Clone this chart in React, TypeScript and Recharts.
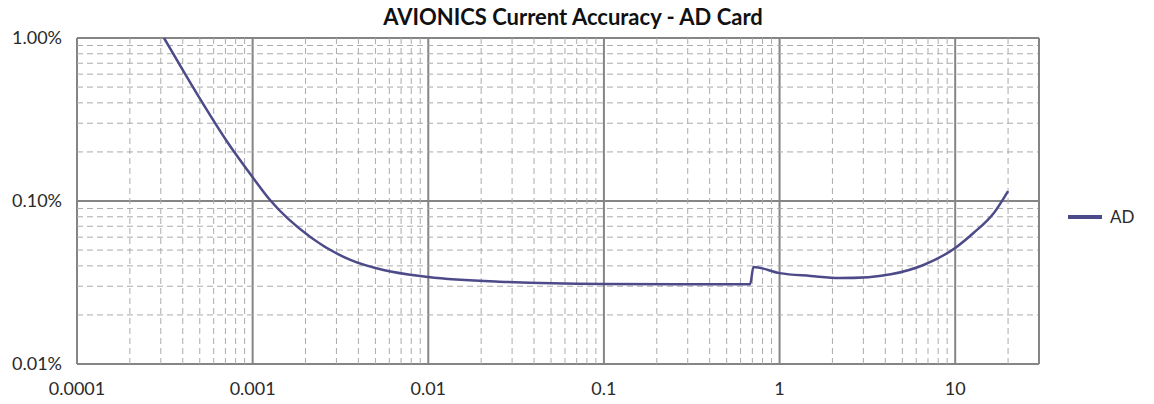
import React from 'react';
import { LineChart, Line, XAxis, YAxis, CartesianGrid, ReferenceLine, Legend } from 'recharts';

// AD card accuracy vs. measured current (A), both on log scales
const currentA = [
  0.000313, 0.000402, 0.0005, 0.000716, 0.001, 0.00126, 0.00213, 0.0036, 0.00555, 0.01,
  0.0282, 0.1, 0.3, 0.68, 0.71, 1, 1.5, 2.2, 3.2, 4.3, 6.6, 10, 12.7, 16.6, 20,
];
const accuracyAD = [
  0.01, 0.00631, 0.00426, 0.00231, 0.0014, 0.00101, 0.000601, 0.000435, 0.000377, 0.000342,
  0.000319, 0.00031, 0.000309, 0.000309, 0.000394, 0.000361, 0.000347, 0.000337, 0.000341, 0.000355,
  0.000405, 0.000515, 0.000636, 0.000844, 0.00115,
];

const xTicks = [0.0001, 0.001, 0.01, 0.1, 1, 10];
const yTicks = [0.0001, 0.001, 0.01];
const xMinor = [
  0.0002, 0.0003, 0.0004, 0.0005, 0.0006, 0.0007, 0.0008, 0.0009,
  0.002, 0.003, 0.004, 0.005, 0.006, 0.007, 0.008, 0.009,
  0.02, 0.03, 0.04, 0.05, 0.06, 0.07, 0.08, 0.09,
  0.2, 0.3, 0.4, 0.5, 0.6, 0.7, 0.8, 0.9,
  2, 3, 4, 5, 6, 7, 8, 9,
  20,
];
const yMinor = [
  0.0002, 0.0003, 0.0004, 0.0005, 0.0006, 0.0007, 0.0008, 0.0009,
  0.002, 0.003, 0.004, 0.005, 0.006, 0.007, 0.008, 0.009,
];

const data = currentA.map((x, i) => ({ current: x, AD: accuracyAD[i] }));

const FONT = 'Lato, "Open Sans", sans-serif';
const LINE_COLOR = '#4d4a8a';
const TEXT_COLOR = '#2a2a2a';

const LegendBox = () => (
  <div style={{ display: 'flex', alignItems: 'center', fontFamily: FONT, fontSize: 17, color: TEXT_COLOR }}>
    <svg width={34} height={8} style={{ marginRight: 8 }}>
      <line x1={0} y1={4} x2={34} y2={4} stroke={LINE_COLOR} strokeWidth={4} />
    </svg>
    AD
  </div>
);

export default function App() {
  return (
    <div style={{ position: 'relative', width: 1146, height: 396, background: '#fff' }}>
      <div
        style={{
          position: 'absolute', top: -1, left: 0, width: 1130, textAlign: 'center',
          fontFamily: FONT, fontWeight: 700, fontSize: 22, color: '#111', lineHeight: '20px',
        }}
      >
        AVIONICS Current Accuracy - AD Card
      </div>
      <LineChart
        width={1146}
        height={396}
        data={data}
        margin={{ top: 30, right: 115, left: 0, bottom: 0 }}
      >
        {xMinor.map((v) => (
          <ReferenceLine key={'x' + v} x={v} stroke="#ababab" strokeDasharray="6 4" strokeWidth={1} />
        ))}
        {yMinor.map((v) => (
          <ReferenceLine key={'y' + v} y={v} stroke="#ababab" strokeDasharray="6 4" strokeWidth={1} />
        ))}
        <CartesianGrid stroke="#858585" strokeWidth={2} />
        <ReferenceLine x={30} stroke="#858585" strokeWidth={2} />
        <XAxis
          dataKey="current"
          type="number"
          scale="log"
          domain={[0.0001, 30]}
          ticks={xTicks}
          allowDataOverflow
          axisLine={false}
          tickLine={false}
          height={40}
          tickMargin={12}
          tick={{ fontFamily: FONT, fontSize: 18, fill: TEXT_COLOR }}
          tickFormatter={(v: number) => String(v)}
        />
        <YAxis
          type="number"
          scale="log"
          domain={[0.0001, 0.01]}
          ticks={yTicks}
          allowDataOverflow
          axisLine={false}
          tickLine={false}
          width={69}
          tickMargin={9}
          tick={{ fontFamily: FONT, fontSize: 18, fill: TEXT_COLOR }}
          tickFormatter={(v: number) => (v * 100).toFixed(2) + '%'}
        />
        <Legend
          layout="vertical"
          align="center"
          verticalAlign="middle"
          content={() => <LegendBox />}
          wrapperStyle={{ left: 1060, top: 198, width: 80 }}
        />
        <Line
          type="monotone"
          dataKey="AD"
          stroke={LINE_COLOR}
          strokeWidth={2.5}
          dot={false}
          isAnimationActive={false}
        />
      </LineChart>
    </div>
  );
}
